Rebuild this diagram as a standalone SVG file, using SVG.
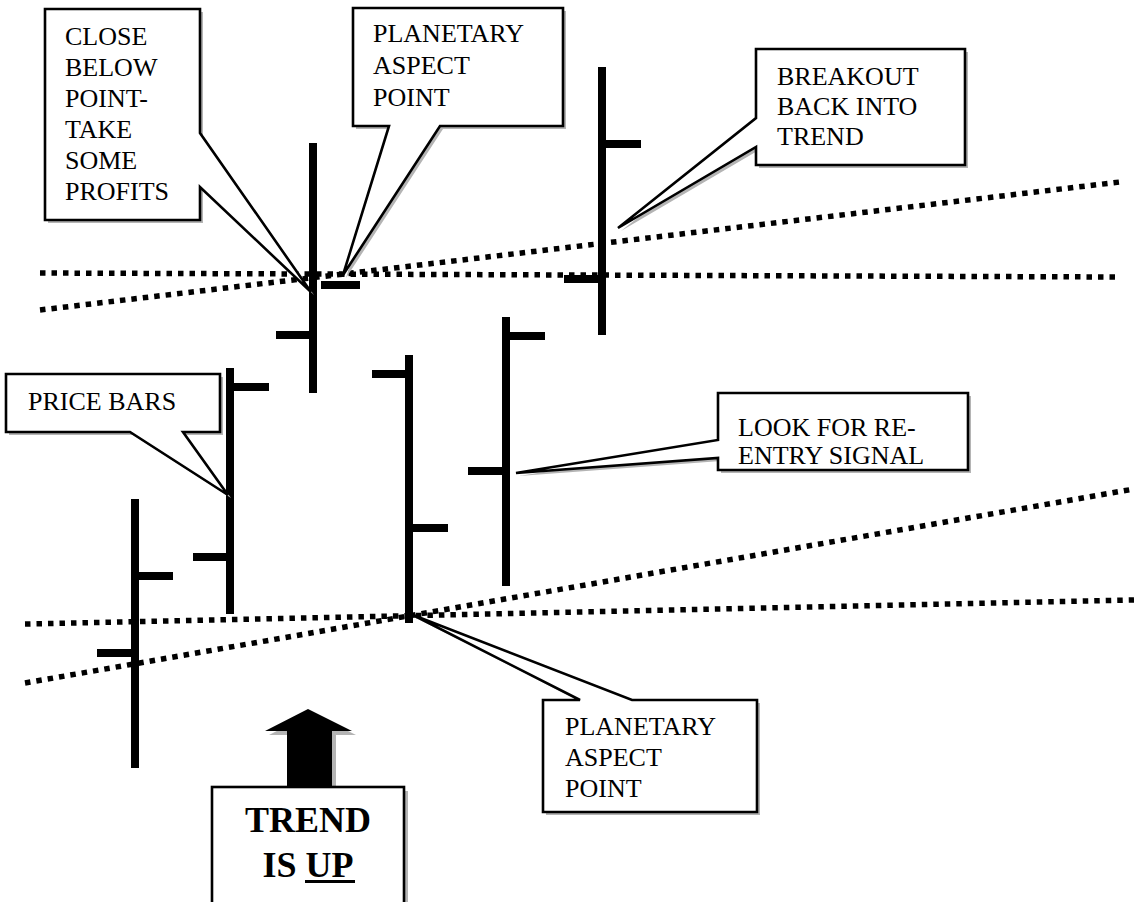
<svg xmlns="http://www.w3.org/2000/svg" width="1134" height="902" viewBox="0 0 1134 902">
  <style>
    .trend { fill: none; stroke: #000; stroke-width: 5.5; stroke-dasharray: 5.5 6; }
    .bar line { stroke: #000; stroke-width: 8; stroke-linecap: butt; }
    .shadow { fill: #b4b4b4; stroke: none; }
    .box { fill: #fff; stroke: #000; stroke-width: 2.6; stroke-linejoin: miter; }
    .lbl { font-family: "Liberation Serif", "Times New Roman", serif; font-size: 26px; fill: #000; }
    .big { font-family: "Liberation Serif", "Times New Roman", serif; font-size: 36px; font-weight: bold; fill: #000; text-anchor: middle; }
  </style>
  <defs>
    <path id="c1" d="M45,9 H200 V133 L311,292 L200,187 V220 H45 Z"/>
    <path id="c2" d="M353,8 H563 V126 H440 L343,275 L389,126 H353 Z"/>
    <path id="c3" d="M756,49 H965 V165 H756 V147 L618,228 L756,118 Z"/>
    <path id="c4" d="M6,374 H220 V432 H183 L228,495 L130,432 H6 Z"/>
    <path id="c5" d="M718,393 H968 V470 H718 V458 L516,473 L718,440 Z"/>
    <path id="c6" d="M543,700 H580 L413,615 L632,700 H757 V812 H543 Z"/>
    <path id="arrow" d="M287,787 V731 H265 L308,709 L352,731 H332 V787 Z"/>
  </defs>
  <rect width="1134" height="902" fill="#fff"/>

  <!-- trend lines -->
  <g id="connectors">
    <line class="trend" x1="40" y1="273" x2="1117" y2="277"/>
    <line class="trend" x1="40" y1="310" x2="1120" y2="182"/>
    <line class="trend" x1="25" y1="624" x2="1134" y2="600"/>
    <line class="trend" x1="25" y1="683" x2="1134" y2="489"/>
  </g>

  <!-- price bars: vertical range, open tick left, close tick right -->
  <g id="bars" class="bar">
    <g id="bar-a"><line x1="135" y1="499" x2="135" y2="768"/><line x1="135" y1="576" x2="173" y2="576"/><line x1="97" y1="653" x2="135" y2="653"/></g>
    <g id="bar-b"><line x1="230" y1="368" x2="230" y2="614"/><line x1="230" y1="387" x2="269" y2="387"/><line x1="193" y1="557" x2="230" y2="557"/></g>
    <g id="bar-c"><line x1="313" y1="143" x2="313" y2="393"/><line x1="321" y1="285" x2="360" y2="285"/><line x1="276" y1="335" x2="313" y2="335"/></g>
    <g id="bar-d"><line x1="409" y1="355" x2="409" y2="623"/><line x1="372" y1="374" x2="409" y2="374"/><line x1="409" y1="528" x2="448" y2="528"/></g>
    <g id="bar-e"><line x1="506" y1="317" x2="506" y2="586"/><line x1="506" y1="336" x2="545" y2="336"/><line x1="468" y1="471" x2="506" y2="471"/></g>
    <g id="bar-f"><line x1="602" y1="67" x2="602" y2="335"/><line x1="602" y1="144" x2="641" y2="144"/><line x1="564" y1="279" x2="602" y2="279"/></g>
  </g>

  <!-- callouts -->
  <g id="close-below">
    <use href="#c1" class="shadow" transform="translate(3,3)"/>
    <use href="#c1" class="box"/>
    <text class="lbl" x="65" y="45">CLOSE</text>
    <text class="lbl" x="65" y="76">BELOW</text>
    <text class="lbl" x="65" y="107">POINT-</text>
    <text class="lbl" x="65" y="138">TAKE</text>
    <text class="lbl" x="65" y="169">SOME</text>
    <text class="lbl" x="65" y="200">PROFITS</text>
  </g>
  <g id="aspect-top">
    <use href="#c2" class="shadow" transform="translate(3,3)"/>
    <use href="#c2" class="box"/>
    <text class="lbl" x="373" y="42">PLANETARY</text>
    <text class="lbl" x="373" y="74">ASPECT</text>
    <text class="lbl" x="373" y="106">POINT</text>
  </g>
  <g id="breakout">
    <use href="#c3" class="shadow" transform="translate(3,3)"/>
    <use href="#c3" class="box"/>
    <text class="lbl" x="777" y="85">BREAKOUT</text>
    <text class="lbl" x="777" y="115">BACK INTO</text>
    <text class="lbl" x="777" y="145">TREND</text>
  </g>
  <g id="price-bars">
    <use href="#c4" class="shadow" transform="translate(3,3)"/>
    <use href="#c4" class="box"/>
    <text class="lbl" x="28" y="410">PRICE BARS</text>
  </g>
  <g id="reentry">
    <use href="#c5" class="shadow" transform="translate(3,3)"/>
    <use href="#c5" class="box"/>
    <text class="lbl" x="738" y="436">LOOK FOR RE-</text>
    <text class="lbl" x="738" y="464">ENTRY SIGNAL</text>
  </g>
  <g id="aspect-bottom">
    <use href="#c6" class="shadow" transform="translate(3,3)"/>
    <use href="#c6" class="box"/>
    <text class="lbl" x="565" y="735">PLANETARY</text>
    <text class="lbl" x="565" y="766">ASPECT</text>
    <text class="lbl" x="565" y="797">POINT</text>
  </g>

  <!-- trend direction marker -->
  <g id="trend-up">
    <use href="#arrow" class="shadow" transform="translate(4,4)"/>
    <use href="#arrow" fill="#000"/>
    <rect x="216" y="791" width="192" height="130" class="shadow"/>
    <rect x="212" y="787" width="192" height="130" class="box"/>
    <text class="big" x="308" y="832">TREND</text>
    <text class="big" x="308" y="877">IS UP</text>
    <rect x="305" y="880" width="50" height="3" fill="#000"/>
  </g>
</svg>
